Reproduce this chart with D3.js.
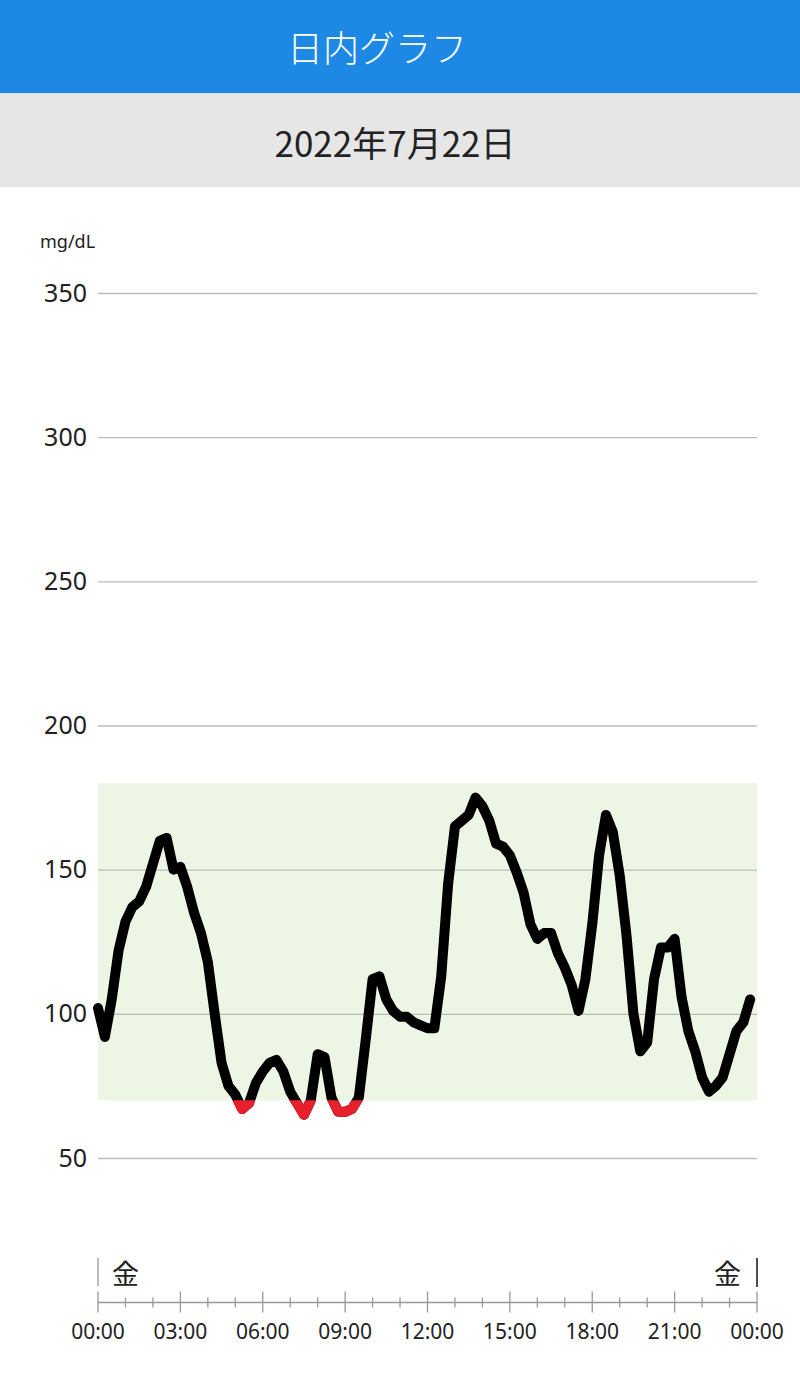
<!DOCTYPE html>
<html><head><meta charset="utf-8">
<script src="https://cdn.jsdelivr.net/npm/d3@7"></script>
<style>
html,body{margin:0;padding:0;background:#fff;}
svg{display:block;font-family:"Noto Sans","Noto Sans CJK JP",sans-serif;}
</style></head>
<body>
<svg id="c" width="800" height="1378"></svg>
<script>
const title = "日内グラフ";
const dateLabel = "2022年7月22日";
const unitLabel = "mg/dL";
const dayLabel = "金";
// glucose readings every 15 minutes (index 0 = 00:00)
const readingMinutes = d3.range(0, 96).map(i => i * 15);
const glucose = [
 102, 92,105,122,132,137,139,144,152,160,
 161,150,151,144,135,128,118,100, 83, 75,
  72, 67, 69, 76, 80, 83, 84, 80, 73, 69,
  65, 70, 86, 85, 71, 66, 66, 67, 71, 91,
 112,113,105,101, 99, 99, 97, 96, 95, 95,
 113,145,165,167,169,175,172,167,159,158,
 155,149,142,131,126,128,128,121,116,110,
 101,112,131,155,169,163,148,127,100, 87,
  90,112,123,123,126,106, 94, 87, 78, 73,
  75, 78, 86, 94, 97,105];
const yTicks = [50,100,150,200,250,300,350];
const xTickHours = d3.range(0, 25, 3);
const xTickLabels = ["00:00","03:00","06:00","09:00","12:00","15:00","18:00","21:00","00:00"];
const targetLow = 70, targetHigh = 180;

const cjk = "'Noto Sans CJK JP',sans-serif";
const latin = "'Noto Sans','Noto Sans CJK JP',sans-serif";
const svg = d3.select("#c");
// header
svg.append("rect").attr("x",0).attr("y",0).attr("width",800).attr("height",93).attr("fill","#1e88e5");
svg.append("text").attr("x",377).attr("y",46).attr("text-anchor","middle").attr("dominant-baseline","central")
  .attr("fill","#fff").attr("font-size",36).attr("font-weight",300).attr("font-family",cjk).text(title);
svg.append("rect").attr("x",0).attr("y",93).attr("width",800).attr("height",94).attr("fill","#e6e6e6");
svg.append("line").attr("x1",0).attr("x2",800).attr("y1",93.5).attr("y2",93.5).attr("stroke","#dcdcdc");
svg.append("text").attr("x",395).attr("y",141).attr("text-anchor","middle").attr("dominant-baseline","central")
  .attr("fill","#222").attr("font-size",35).attr("font-family",cjk).text(dateLabel);

const x = d3.scaleLinear().domain([0, 24*60]).range([98, 757]);
const y = d3.scaleLinear().domain([50, 350]).range([1158, 293]);

svg.append("text").attr("x",40).attr("y",248).attr("font-size",18).attr("fill","#222").attr("font-family",latin).text(unitLabel);

// target band
svg.append("rect").attr("x",x(0)).attr("width",x(1440)-x(0))
  .attr("y",y(targetHigh)).attr("height",y(targetLow)-y(targetHigh)).attr("fill","#edf5e4");

// grid
const yAxis = d3.axisLeft(y).tickValues(yTicks).tickSize(-(x(1440)-x(0))).tickPadding(11);
const gy = svg.append("g").attr("transform",`translate(${x(0)},0)`).call(yAxis);
gy.select(".domain").remove();
gy.selectAll(".tick line").attr("stroke","#b9bdb9").attr("stroke-width",1.3);
gy.selectAll(".tick text").attr("font-size",25).attr("fill","#222").attr("font-family",latin);

// line
const line = d3.line().x((d,i)=>x(readingMinutes[i])).y(d=>y(d));
const defs = svg.append("defs");
defs.append("clipPath").attr("id","low").append("rect")
  .attr("x",0).attr("width",800).attr("y",y(targetLow)).attr("height",400);
svg.append("path").datum(glucose).attr("d",line).attr("fill","none")
  .attr("stroke","#000").attr("stroke-width",10).attr("stroke-linejoin","round").attr("stroke-linecap","round");
svg.append("path").datum(glucose).attr("d",line).attr("fill","none").attr("clip-path","url(#low)")
  .attr("stroke","#e8202c").attr("stroke-width",10).attr("stroke-linejoin","round").attr("stroke-linecap","round");

// x axis
const xAxisY = 1302.5;
const gx = svg.append("g").attr("transform",`translate(0,${xAxisY})`);
gx.append("line").attr("x1",x(0)).attr("x2",x(1440)).attr("stroke","#999").attr("stroke-width",1.3);
gx.selectAll("line.tk").data(d3.range(0,25)).join("line").attr("class","tk")
  .attr("x1",h=>x(h*60)).attr("x2",h=>x(h*60))
  .attr("y1",h=>h%3===0?-11:-5).attr("y2",h=>h%3===0?10:5)
  .attr("stroke","#999").attr("stroke-width",1.3);
gx.selectAll("text").data(xTickHours).join("text")
  .attr("x",h=>x(h*60)).attr("y",28).attr("text-anchor","middle").attr("dominant-baseline","central")
  .attr("font-size",21).attr("fill","#222").attr("font-family",latin).text((h,i)=>xTickLabels[i]);

// day markers
svg.append("line").attr("x1",x(0)).attr("x2",x(0)).attr("y1",1258).attr("y2",1286).attr("stroke","#999").attr("stroke-width",1.3);
svg.append("text").attr("x",x(0)+14).attr("y",1272).attr("dominant-baseline","central").attr("font-size",27).attr("fill","#222").attr("font-family",cjk).text(dayLabel);
svg.append("line").attr("x1",x(1440)).attr("x2",x(1440)).attr("y1",1258).attr("y2",1287).attr("stroke","#222").attr("stroke-width",1.6);
svg.append("text").attr("x",x(1440)-16).attr("y",1272).attr("text-anchor","end").attr("dominant-baseline","central").attr("font-size",27).attr("fill","#222").attr("font-family",cjk).text(dayLabel);
</script>
</body></html>
